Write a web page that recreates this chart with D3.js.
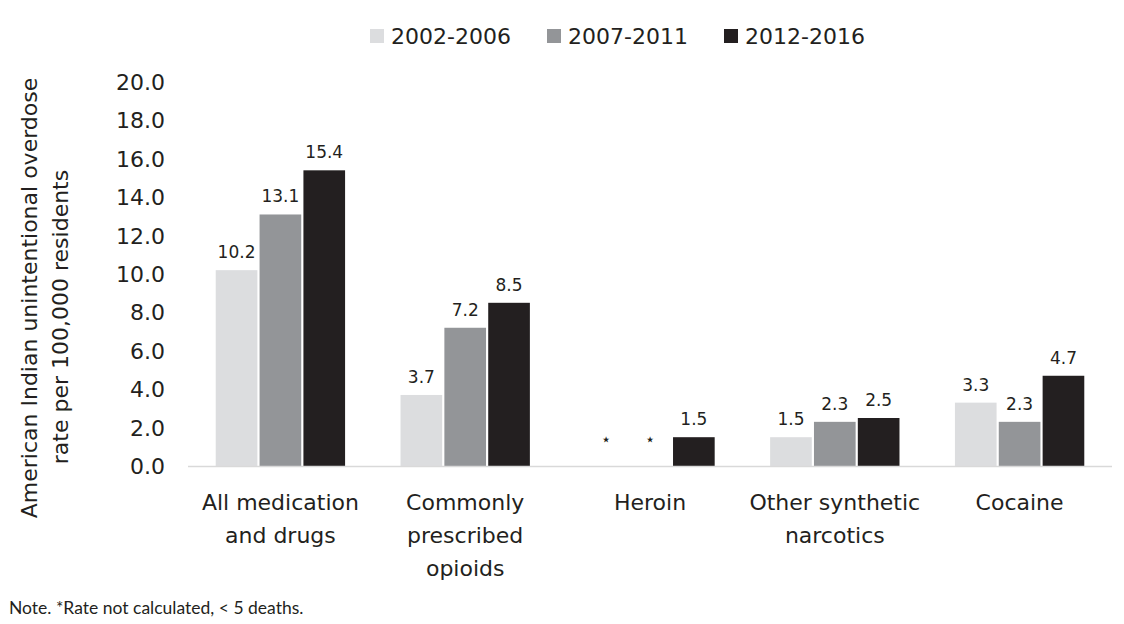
<!DOCTYPE html>
<html><head><meta charset="utf-8">
<script src="https://cdn.jsdelivr.net/npm/d3@7"></script>
<style>body{margin:0;background:#fff}svg{display:block}text{font-family:"DejaVu Sans",sans-serif;fill:#231f20}</style>
</head><body><svg id="c" width="1124" height="624"></svg>
<script>
const categories = [["All medication","and drugs"],["Commonly","prescribed","opioids"],["Heroin"],["Other synthetic","narcotics"],["Cocaine"]];
const series = ["2002-2006","2007-2011","2012-2016"];
const v2002 = [10.2, 3.7, null, 1.5, 3.3];
const v2007 = [13.1, 7.2, null, 2.3, 2.3];
const v2012 = [15.4, 8.5, 1.5, 2.5, 4.7];
const yTicks = [0,2,4,6,8,10,12,14,16,18,20];
const colors = ["#dcdddf","#939598","#231f20"];
const values = [v2002, v2007, v2012];

const svg = d3.select("#c");
const x0 = d3.scaleBand().domain(d3.range(categories.length)).range([188,1112]).paddingInner(0.3).paddingOuter(0.15);
const x1 = d3.scaleBand().domain(d3.range(series.length)).range([0,x0.bandwidth()]).paddingInner(0.05);
const y = d3.scaleLinear().domain([0,20]).range([466,82]);

// y tick labels
svg.append("g").selectAll("text").data(yTicks).join("text")
  .attr("x",165).attr("y",d=>y(d)).attr("dy","0.36em").attr("text-anchor","end")
  .style("font-size","22px").text(d=>d.toFixed(1));

// axis title
svg.append("text").attr("transform","translate(37,298) rotate(-90)").attr("text-anchor","middle").style("font-size","22px")
  .text("American Indian unintentional overdose");
svg.append("text").attr("transform","translate(68,317) rotate(-90)").attr("text-anchor","middle").style("font-size","22px")
  .text("rate per 100,000 residents");

// bars
const g = svg.append("g");
categories.forEach((c,i)=>{
  values.forEach((arr,s)=>{
    const v = arr[i];
    const bx = x0(i)+x1(s);
    if(v!=null){
      g.append("rect").attr("x",bx).attr("y",y(v)).attr("width",x1.bandwidth()).attr("height",y(0)-y(v)).attr("fill",colors[s]);
      g.append("text").attr("x",bx+x1.bandwidth()/2).attr("y",y(v)-12).attr("text-anchor","middle").style("font-size","17px").text(v.toFixed(1));
    } else {
      g.append("text").attr("x",bx+x1.bandwidth()/2).attr("y",y(0)-21).attr("text-anchor","middle").style("font-size","17px").text("⋆");
    }
  });
});

// baseline
svg.append("line").attr("x1",188).attr("x2",1112).attr("y1",y(0)+0.5).attr("y2",y(0)+0.5).attr("stroke","#d9d9d9").attr("stroke-width",1.5);

// category labels
categories.forEach((lines,i)=>{
  const tx = svg.append("text").attr("text-anchor","middle").style("font-size","22px");
  lines.forEach((l,j)=>tx.append("tspan").attr("x",x0(i)+x0.bandwidth()/2).attr("y",510+j*33).text(l));
});

// legend
const legX = [370,547,724];
series.forEach((s,i)=>{
  svg.append("rect").attr("x",legX[i]).attr("y",29).attr("width",14).attr("height",14).attr("fill",colors[i]);
  svg.append("text").attr("x",legX[i]+21).attr("y",44).style("font-size","22px").text(s);
});

// note
svg.append("text").attr("x",9).attr("y",614).style("font-family","Lato, sans-serif").style("font-size","17.5px").text("Note. *Rate not calculated, < 5 deaths.");
</script></body></html>
